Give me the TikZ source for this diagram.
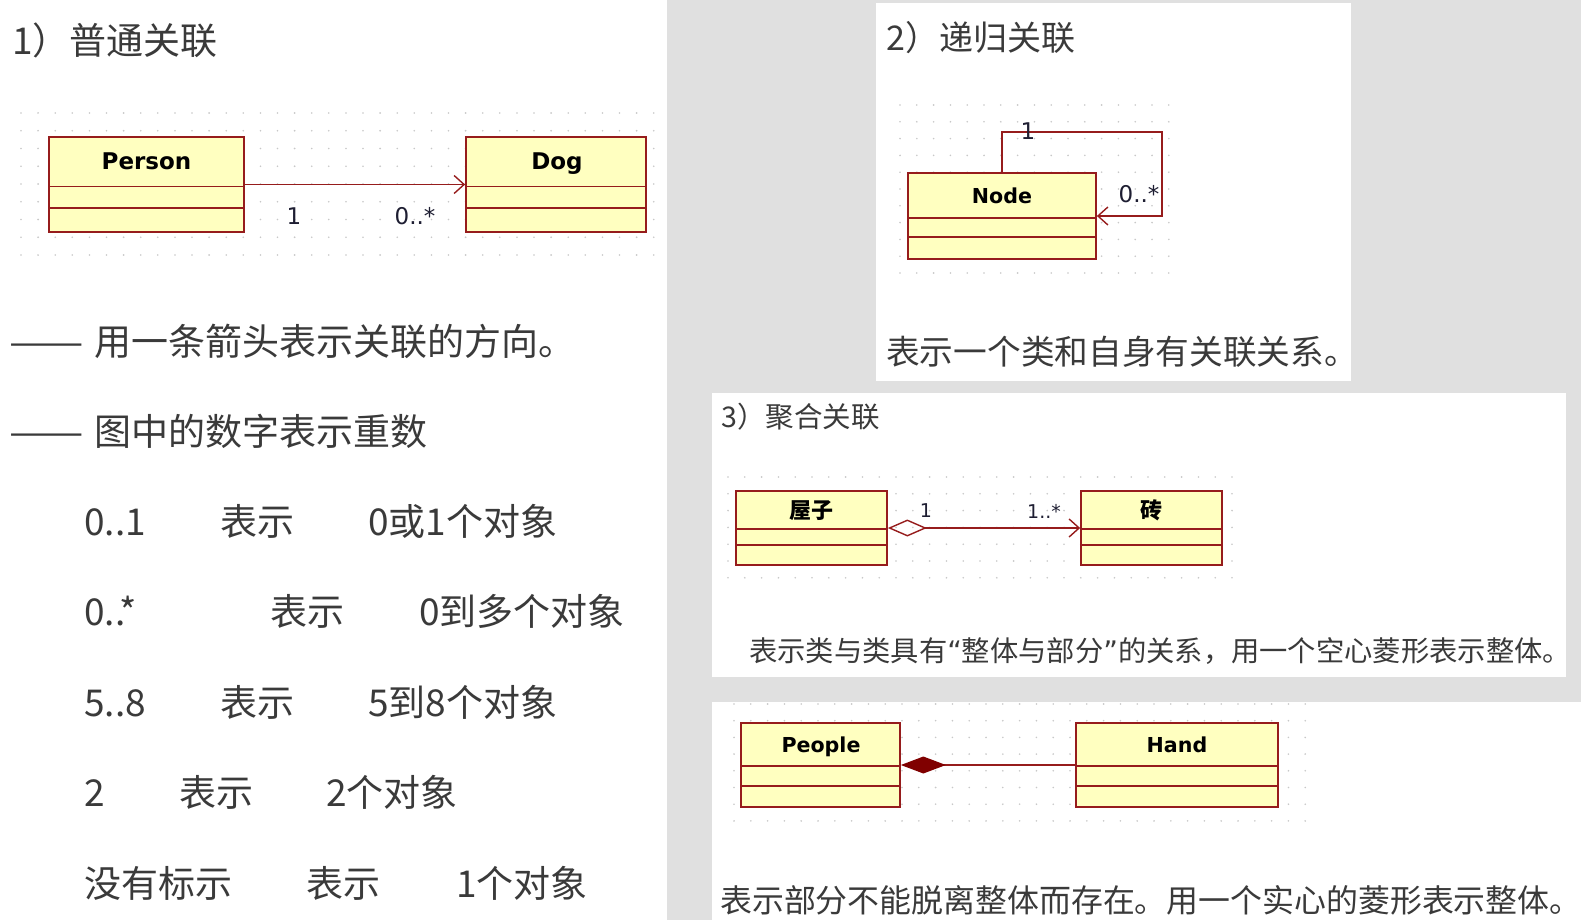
\documentclass[tikz,border=0pt]{standalone}
\usepackage{fontspec}
\setmainfont{Noto Sans CJK SC}
\newfontfamily\umlf{DejaVu Sans}
\usetikzlibrary{arrows.meta,calc}
\definecolor{bggray}{RGB}{224,224,224}
\definecolor{umlfill}{RGB}{255,255,192}
\definecolor{umlline}{RGB}{150,28,28}
\definecolor{darkdia}{RGB}{128,0,0}
\definecolor{txtc}{RGB}{58,58,58}
\definecolor{griddot}{RGB}{200,200,200}
\definecolor{multc}{RGB}{30,30,50}
\newcommand{\dashpair}{\scalebox{1.2}[1]{——}}
\begin{document}
\begin{tikzpicture}[x=1pt,y=-1pt,
  txt/.style={anchor=base west, inner sep=0pt, text=txtc},
  tleft/.style={txt, font=\fontsize{37}{42}\selectfont},
  umlbox/.style={draw=umlline, fill=umlfill, line width=1.7pt, inner sep=0pt},
  divline/.style={draw=umlline, line width=1.7pt},
  assoc/.style={draw=umlline, line width=1.6pt},
  umlhead/.style={font=\umlf\bfseries\fontsize{23}{26}\selectfont, text=black, inner sep=0pt, text height=0.73em, text depth=0pt},
  umlheads/.style={umlhead, font=\umlf\bfseries\fontsize{20.6}{24}\selectfont},
  cjkhead/.style={font=\bfseries\fontsize{22}{24}\selectfont, text=black, inner sep=0pt, text height=0.76em, text depth=0pt},
  mult/.style={font=\umlf\fontsize{23}{26}\selectfont, text=multc, inner sep=0pt},
  mults/.style={font=\umlf\fontsize{19}{22}\selectfont, text=multc, inner sep=0pt},
  barb/.style={-{Straight Barb[length=10pt,width=18pt,line width=1.4pt]}}
]
% backgrounds
\fill[bggray] (0,0) rectangle (1581,920);
\useasboundingbox (0,0) rectangle (1581,920);
\fill[white] (0,0) rectangle (667,920);
\fill[white] (876,3) rectangle (1351,381);
\fill[white] (712,393) rectangle (1566,677);
\fill[white] (712,702) rectangle (1581,920);

% grid dots
\foreach \i in {0,...,37} \foreach \j in {0,...,8}
  \fill[griddot] ({21+\i*17.1},{113+\j*17.75}) circle (0.9);
\foreach \i in {0,...,16} \foreach \j in {0,...,10}
  \fill[griddot] ({900+\i*16.8},{105+\j*16.8}) circle (0.9);
\foreach \i in {0,...,30} \foreach \j in {0,...,6}
  \fill[griddot] ({728+\i*16.8},{477+\j*16.8}) circle (0.9);
\foreach \i in {0,...,34} \foreach \j in {0,...,7}
  \fill[griddot] ({734+\i*16.8},{704+\j*16.7}) circle (0.9);

% ---------- panel 1 ----------
\node[txt, font=\fontsize{37}{42}\selectfont] (title1) at (12,55) {1）普通关联};

\node[umlbox, minimum width=195pt, minimum height=95pt] (person) at (146.5,184.5) {};
\draw[divline] ($(person.north west)+(0,50.5)$) -- ($(person.north east)+(0,50.5)$);
\draw[divline] ($(person.north west)+(0,72)$) -- ($(person.north east)+(0,72)$);
\node[umlhead] (personT) at (146.5,166) {Person};

\node[umlbox, minimum width=180pt, minimum height=95pt] (dog) at (556,184.5) {};
\draw[divline] ($(dog.north west)+(0,50.5)$) -- ($(dog.north east)+(0,50.5)$);
\draw[divline] ($(dog.north west)+(0,72)$) -- ($(dog.north east)+(0,72)$);
\node[umlhead] (dogT) at (557,166) {Dog};

\draw[assoc, barb] (person.east) -- (dog.west);
\node[mult] (m1a) at (294,216) {1};
\node[mult] (m1b) at (415,216) {0..*};

\node[tleft] (l1) at (9,355) {\dashpair\hspace{0.3em}用一条箭头表示关联的方向。};
\node[tleft] (l2) at (9,445) {\dashpair\hspace{0.3em}图中的数字表示重数};

\node[tleft] (r1a) at (84,535) {0..1};
\node[tleft] (r1b) at (220,535) {表示};
\node[tleft] (r1c) at (368,535) {0或1个对象};

\node[tleft] (r2a) at (84,625) {0..*};
\node[tleft] (r2b) at (270,625) {表示};
\node[tleft] (r2c) at (419,625) {0到多个对象};

\node[tleft] (r3a) at (84,716) {5..8};
\node[tleft] (r3b) at (220,716) {表示};
\node[tleft] (r3c) at (368,716) {5到8个对象};

\node[tleft] (r4a) at (84,806) {2};
\node[tleft] (r4b) at (179,806) {表示};
\node[tleft] (r4c) at (326,806) {2个对象};

\node[tleft] (r5a) at (84,897) {没有标示};
\node[tleft] (r5b) at (306,897) {表示};
\node[tleft] (r5c) at (456,897) {1个对象};

% ---------- panel 2 ----------
\node[txt, font=\fontsize{34}{38}\selectfont] (title2) at (886,51) {2）递归关联};
\node[umlbox, minimum width=188pt, minimum height=86pt] (nodeC) at (1002,216) {};
\draw[divline] ($(nodeC.north west)+(0,46)$) -- ($(nodeC.north east)+(0,46)$);
\draw[divline] ($(nodeC.north west)+(0,65)$) -- ($(nodeC.north east)+(0,65)$);
\node[umlheads] (nodeT) at (1002,200) {Node};
\coordinate (loopc) at (1162,132);
\draw[assoc, barb] (nodeC.north) |- (loopc) |- (nodeC.east);
\node[mult] (m2a) at (1028,131) {1};
\node[mult] (m2b) at (1139,194) {0..*};
\node[txt, font=\fontsize{33.7}{37}\selectfont] (text2) at (886,364) {表示一个类和自身有关联关系。};

% ---------- panel 3 ----------
\node[txt, font=\fontsize{28.5}{32}\selectfont] (title3) at (721,427) {3）聚合关联};
\node[umlbox, minimum width=151pt, minimum height=74pt] (house) at (811.5,528) {};
\draw[divline] ($(house.north west)+(0,39)$) -- ($(house.north east)+(0,39)$);
\draw[divline] ($(house.north west)+(0,55)$) -- ($(house.north east)+(0,55)$);
\node[cjkhead] (houseT) at (811.5,515) {屋子};
\node[umlbox, minimum width=141pt, minimum height=74pt] (brick) at (1151.5,528) {};
\draw[divline] ($(brick.north west)+(0,39)$) -- ($(brick.north east)+(0,39)$);
\draw[divline] ($(brick.north west)+(0,55)$) -- ($(brick.north east)+(0,55)$);
\node[cjkhead] (brickT) at (1151.5,515) {砖};
\draw[assoc, {Diamond[open,length=39pt,width=17pt,line width=1.4pt]}-{Straight Barb[length=10pt,width=18pt,line width=1.4pt]}] (house.east) -- (brick.west);
\node[mults] (m3a) at (926,511) {1};
\node[mults] (m3b) at (1044,511) {1..*};
\node[txt, font=\fontsize{28.3}{32}\selectfont] (text3) at (749,661) {表示类与类具有{\umlf “}整体与部分{\umlf ”}的关系，用一个空心菱形表示整体。};

% ---------- panel 4 ----------
\node[umlbox, minimum width=159pt, minimum height=84pt] (people) at (820.5,765) {};
\draw[divline] ($(people.north west)+(0,44)$) -- ($(people.north east)+(0,44)$);
\draw[divline] ($(people.north west)+(0,64)$) -- ($(people.north east)+(0,64)$);
\node[umlheads] (peopleT) at (821,749) {People};
\node[umlbox, minimum width=202pt, minimum height=84pt] (hand) at (1177,765) {};
\draw[divline] ($(hand.north west)+(0,44)$) -- ($(hand.north east)+(0,44)$);
\draw[divline] ($(hand.north west)+(0,64)$) -- ($(hand.north east)+(0,64)$);
\node[umlheads] (handT) at (1177,749) {Hand};
\draw[assoc, {Diamond[length=45pt,width=17pt,fill=darkdia,color=darkdia]}-] (people.east) -- (hand.west);
\node[txt, font=\fontsize{31.9}{36}\selectfont] (text4) at (720,912) {表示部分不能脱离整体而存在。用一个实心的菱形表示整体。};
\end{tikzpicture}
\end{document}
